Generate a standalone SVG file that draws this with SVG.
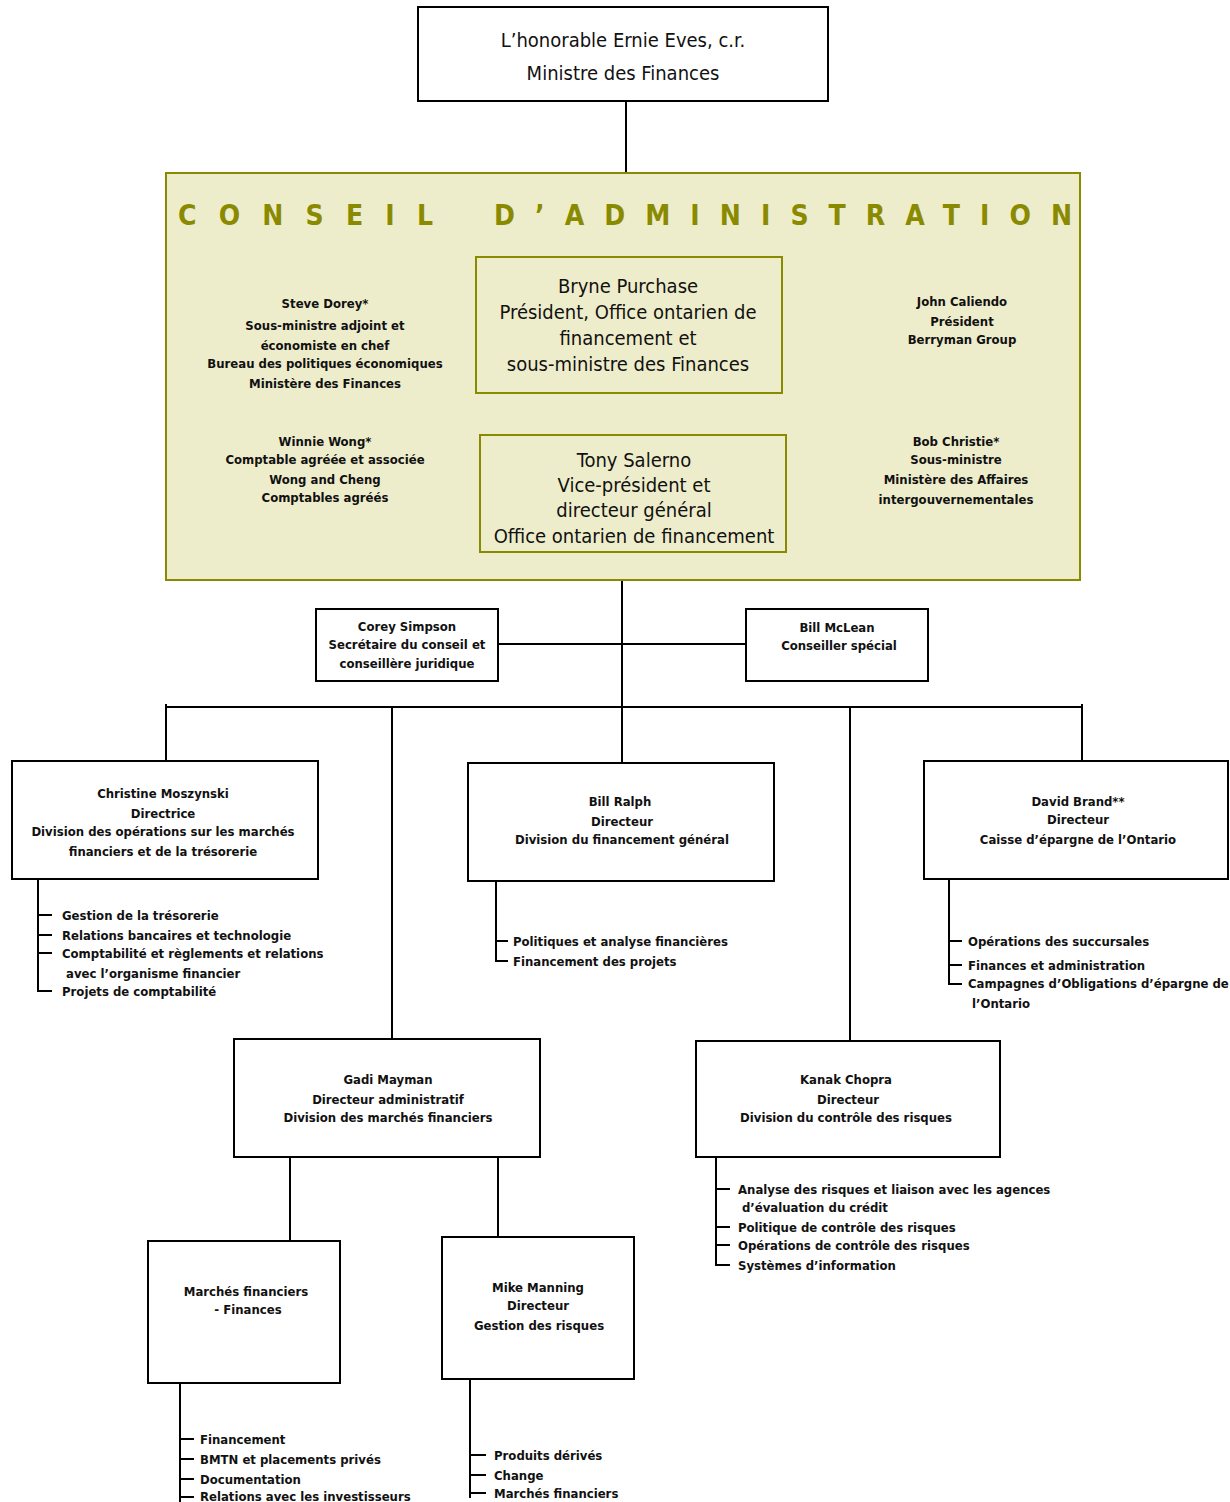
<svg xmlns="http://www.w3.org/2000/svg" width="1230" height="1502" viewBox="0 0 1230 1502">
<style>
.bx{fill:#fff;stroke:#000;stroke-width:2}
.ob{fill:#EEEDCB;stroke:#8A8A00;stroke-width:2}
.ln{stroke:#000;stroke-width:2;fill:none}
.ol{stroke:#8A8A00;stroke-width:2;fill:none}
.r{font-family:"DejaVu Sans Condensed","Liberation Sans",sans-serif;font-size:20px;fill:#111;text-anchor:middle}
.b{font-family:"DejaVu Sans Condensed","Liberation Sans",sans-serif;font-size:13px;font-weight:bold;fill:#111;text-anchor:middle}
.l{font-family:"DejaVu Sans Condensed","Liberation Sans",sans-serif;font-size:13px;font-weight:bold;fill:#111}
.t{font-family:"DejaVu Sans Condensed","Liberation Sans",sans-serif;font-size:28px;font-weight:bold;fill:#8A8A00}
</style>
<rect width="1230" height="1502" fill="#fff"/>
<g id="connectors">
<line class="ln" x1="626" y1="101" x2="626" y2="173"/>
<line class="ol" x1="626" y1="393" x2="626" y2="435"/>
<line class="ln" x1="622" y1="552" x2="622" y2="763"/>
<line class="ln" x1="498" y1="644" x2="746" y2="644"/>
<line class="ln" x1="165" y1="707" x2="1083" y2="707"/>
<line class="ln" x1="166" y1="704" x2="166" y2="761"/>
<line class="ln" x1="392" y1="707" x2="392" y2="1039"/>
<line class="ln" x1="850" y1="707" x2="850" y2="1041"/>
<line class="ln" x1="1082" y1="704" x2="1082" y2="761"/>
<line class="ln" x1="290" y1="1157" x2="290" y2="1241"/>
<line class="ln" x1="498" y1="1157" x2="498" y2="1237"/>
<path class="ln" d="M38 879V992M38 915H52M38 935H52M38 953H52M38 991H52"/>
<path class="ln" d="M496 881V962M496 941H508M496 961H508"/>
<path class="ln" d="M949 879V985M949 941H962M949 965H962M949 984H962"/>
<path class="ln" d="M716 1157V1266M716 1189H730M716 1227H730M716 1245H730M716 1265H730"/>
<path class="ln" d="M180 1383V1502M180 1439H194M180 1459H194M180 1479H194M180 1497H194"/>
<path class="ln" d="M470 1379V1498M470 1455H486M470 1475H486M470 1493H486"/>
</g>
<g id="minister">
<rect class="bx" x="418" y="7" width="410" height="94"/>
<text class="r" x="623" y="47">L’honorable Ernie Eves, c.r.</text>
<text class="r" x="623" y="80">Ministre des Finances</text>
</g>
<g id="conseil">
<rect class="ob" x="166" y="173" width="914" height="407"/>
<text class="t" x="178" y="225" textLength="255" lengthAdjust="spacing">CONSEIL</text>
<text class="t" x="494" y="225" textLength="578" lengthAdjust="spacing">D’ADMINISTRATION</text>
</g>
<g id="dorey">
<text class="b" x="325" y="308">Steve Dorey*</text>
<text class="b" x="325" y="330">Sous-ministre adjoint et</text>
<text class="b" x="325" y="350">économiste en chef</text>
<text class="b" x="325" y="368">Bureau des politiques économiques</text>
<text class="b" x="325" y="388">Ministère des Finances</text>
</g>
<g id="wong">
<text class="b" x="325" y="446">Winnie Wong*</text>
<text class="b" x="325" y="464">Comptable agréée et associée</text>
<text class="b" x="325" y="484">Wong and Cheng</text>
<text class="b" x="325" y="502">Comptables agréés</text>
</g>
<g id="caliendo">
<text class="b" x="962" y="306">John Caliendo</text>
<text class="b" x="962" y="326">Président</text>
<text class="b" x="962" y="344">Berryman Group</text>
</g>
<g id="christie">
<text class="b" x="956" y="446">Bob Christie*</text>
<text class="b" x="956" y="464">Sous-ministre</text>
<text class="b" x="956" y="484">Ministère des Affaires</text>
<text class="b" x="956" y="504">intergouvernementales</text>
</g>
<g id="purchase">
<rect class="ob" x="476" y="257" width="306" height="136"/>
<text class="r" x="628" y="293">Bryne Purchase</text>
<text class="r" x="628" y="319">Président, Office ontarien de</text>
<text class="r" x="628" y="345">financement et</text>
<text class="r" x="628" y="371">sous-ministre des Finances</text>
</g>
<g id="salerno">
<rect class="ob" x="480" y="435" width="306" height="117"/>
<text class="r" x="634" y="467">Tony Salerno</text>
<text class="r" x="634" y="492">Vice-président et</text>
<text class="r" x="634" y="517">directeur général</text>
<text class="r" x="634" y="543">Office ontarien de financement</text>
</g>
<g id="simpson">
<rect class="bx" x="316" y="609" width="182" height="72"/>
<text class="b" x="407" y="631">Corey Simpson</text>
<text class="b" x="407" y="649">Secrétaire du conseil et</text>
<text class="b" x="407" y="668">conseillère juridique</text>
</g>
<g id="mclean">
<rect class="bx" x="746" y="609" width="182" height="72"/>
<text class="b" x="837" y="632">Bill McLean</text>
<text class="b" x="839" y="650">Conseiller spécial</text>
</g>
<g id="moszynski">
<rect class="bx" x="12" y="761" width="306" height="118"/>
<text class="b" x="163" y="798">Christine Moszynski</text>
<text class="b" x="163" y="818">Directrice</text>
<text class="b" x="163" y="836">Division des opérations sur les marchés</text>
<text class="b" x="163" y="856">financiers et de la trésorerie</text>
<text class="l" x="62" y="920">Gestion de la trésorerie</text>
<text class="l" x="62" y="940">Relations bancaires et technologie</text>
<text class="l" x="62" y="958">Comptabilité et règlements et relations</text>
<text class="l" x="66" y="978">avec l’organisme financier</text>
<text class="l" x="62" y="996">Projets de comptabilité</text>
</g>
<g id="ralph">
<rect class="bx" x="468" y="763" width="306" height="118"/>
<text class="b" x="620" y="806">Bill Ralph</text>
<text class="b" x="622" y="826">Directeur</text>
<text class="b" x="622" y="844">Division du financement général</text>
<text class="l" x="513" y="946">Politiques et analyse financières</text>
<text class="l" x="513" y="966">Financement des projets</text>
</g>
<g id="brand">
<rect class="bx" x="924" y="761" width="304" height="118"/>
<text class="b" x="1078" y="806">David Brand**</text>
<text class="b" x="1078" y="824">Directeur</text>
<text class="b" x="1078" y="844">Caisse d’épargne de l’Ontario</text>
<text class="l" x="968" y="946">Opérations des succursales</text>
<text class="l" x="968" y="970">Finances et administration</text>
<text class="l" x="968" y="988">Campagnes d’Obligations d’épargne de</text>
<text class="l" x="972" y="1008">l’Ontario</text>
</g>
<g id="mayman">
<rect class="bx" x="234" y="1039" width="306" height="118"/>
<text class="b" x="388" y="1084">Gadi Mayman</text>
<text class="b" x="388" y="1104">Directeur administratif</text>
<text class="b" x="388" y="1122">Division des marchés financiers</text>
</g>
<g id="chopra">
<rect class="bx" x="696" y="1041" width="304" height="116"/>
<text class="b" x="846" y="1084">Kanak Chopra</text>
<text class="b" x="848" y="1104">Directeur</text>
<text class="b" x="846" y="1122">Division du contrôle des risques</text>
<text class="l" x="738" y="1194">Analyse des risques et liaison avec les agences</text>
<text class="l" x="742" y="1212">d’évaluation du crédit</text>
<text class="l" x="738" y="1232">Politique de contrôle des risques</text>
<text class="l" x="738" y="1250">Opérations de contrôle des risques</text>
<text class="l" x="738" y="1270">Systèmes d’information</text>
</g>
<g id="marches">
<rect class="bx" x="148" y="1241" width="192" height="142"/>
<text class="b" x="246" y="1296">Marchés financiers</text>
<text class="b" x="248" y="1314">- Finances</text>
<text class="l" x="200" y="1444">Financement</text>
<text class="l" x="200" y="1464">BMTN et placements privés</text>
<text class="l" x="200" y="1484">Documentation</text>
<text class="l" x="200" y="1501">Relations avec les investisseurs</text>
</g>
<g id="manning">
<rect class="bx" x="442" y="1237" width="192" height="142"/>
<text class="b" x="538" y="1292">Mike Manning</text>
<text class="b" x="538" y="1310">Directeur</text>
<text class="b" x="539" y="1330">Gestion des risques</text>
<text class="l" x="494" y="1460">Produits dérivés</text>
<text class="l" x="494" y="1480">Change</text>
<text class="l" x="494" y="1498">Marchés financiers</text>
</g>
</svg>
